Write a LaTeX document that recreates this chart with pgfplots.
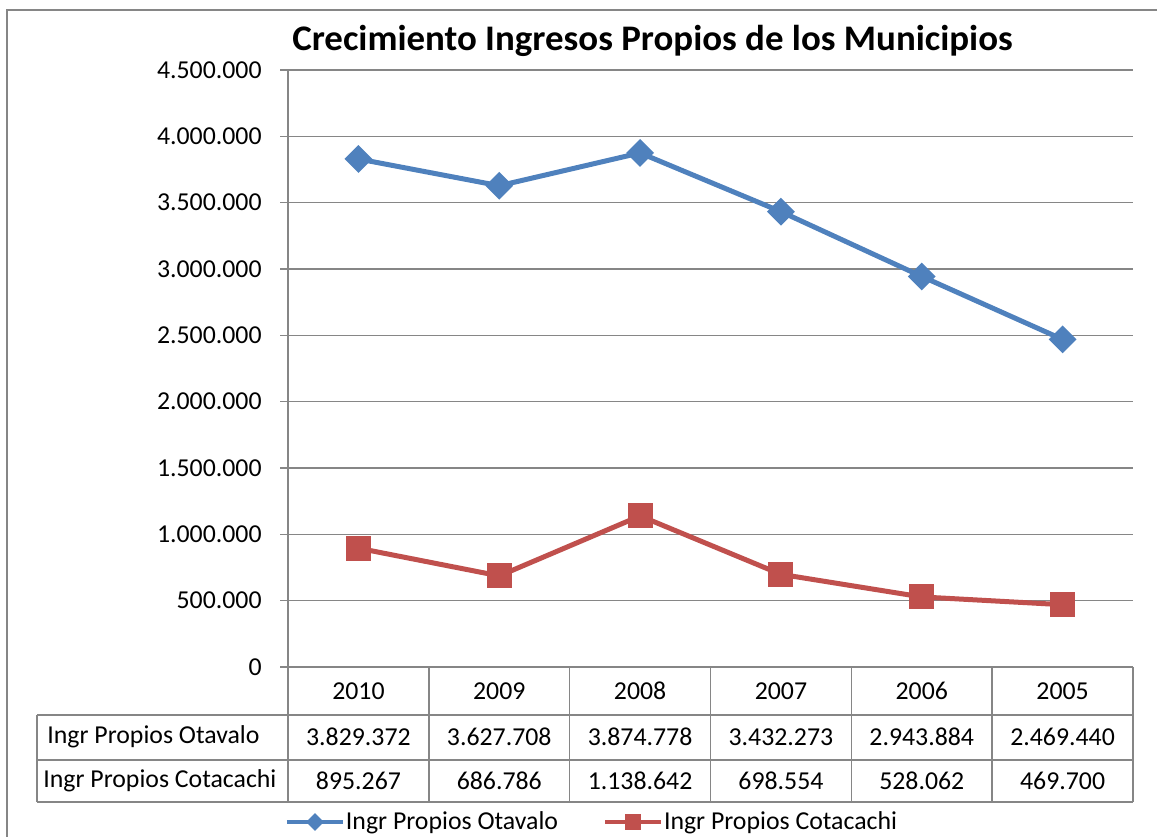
\documentclass[border=0pt]{standalone}
\usepackage{fontspec}
\setmainfont{Carlito}
\usepackage{graphicx}
\usepackage{pgfplots}
\pgfplotsset{compat=1.18}
\definecolor{otav}{HTML}{4F81BD}
\definecolor{cota}{HTML}{C0504D}
\definecolor{gridc}{HTML}{868686}
\newcommand{\tf}{\fontsize{12.9}{15}\selectfont}
\begin{document}
\begin{tikzpicture}
\useasboundingbox (0,0) rectangle (578.5pt,418pt);
\draw[gridc, line width=1pt] (3.5pt,-10pt) -- (3.5pt,413pt) -- (600pt,413pt);
\node[font=\fontsize{18}{21}\selectfont\bfseries, inner sep=0pt] at (326.25pt,397.5pt) {\scalebox{1.025}[1]{Crecimiento Ingresos Propios de los Municipios}};
\begin{axis}[
  at={(144pt,84.5pt)}, anchor=south west,
  width=422.5pt, height=298.5pt, scale only axis,
  xmin=-0.5, xmax=5.5, ymin=0, ymax=4500000,
  axis lines*=left,
  axis line style={gridc, line width=0.8pt, -},
  ytick={0,500000,1000000,1500000,2000000,2500000,3000000,3500000,4000000,4500000},
  scaled y ticks=false,
  /pgf/number format/fixed,
  /pgf/number format/precision=0,
  /pgf/number format/1000 sep={.},
  /pgf/number format/assume math mode=true,
  yticklabel style={font=\tf, anchor=east, inner sep=0pt, xshift=-9pt},
  ytick align=outside, major tick length=4pt,
  ytick style={gridc, line width=0.8pt},
  ymajorgrids, major grid style={gridc, line width=0.75pt},
  xtick={0,1,2,3,4,5},
  xticklabels={2010,2009,2008,2007,2006,2005},
  xtick style={draw=none},
  xticklabel style={font=\tf, anchor=center, inner sep=0pt, yshift=-12pt},
  clip=false,
  legend style={at={(0.3592,-0.2596)}, anchor=center, draw=none, fill=none,
    legend columns=2, font=\tf,
    /tikz/every even column/.append style={column sep=22pt},
    nodes={inner sep=0.5pt}},
  legend cell align=left,
  legend image code/.code={\draw[mark repeat=2, mark phase=2, #1, line width=2pt, mark size=3pt] plot coordinates {(0pt,0pt) (14pt,0pt) (28pt,0pt)};},
]
\addplot[color=otav, line width=2.5pt, mark=diamond*, mark size=5.2pt, mark options={xscale=1.333, solid}] coordinates {
  (0,3829372) (1,3627708) (2,3874778) (3,3432273) (4,2943884) (5,2469440)};
\addlegendentry{Ingr Propios Otavalo}
\addplot[color=cota, line width=2.5pt, mark=square*, mark size=5pt, mark options={solid}] coordinates {
  (0,895267) (1,686786) (2,1138642) (3,698554) (4,528062) (5,469700)};
\addlegendentry{Ingr Propios Cotacachi}
\end{axis}
% data table
\begin{scope}[gridc, line width=0.8pt]
\foreach \k in {0,...,6} { \draw ({144pt+\k*70.4167pt},84.5pt) -- ({144pt+\k*70.4167pt},17pt); }
\draw (18.5pt,60.5pt) -- (566.5pt,60.5pt);
\draw (18.5pt,38pt) -- (566.5pt,38pt);
\draw (18.5pt,17pt) -- (566.5pt,17pt);
\draw (18.5pt,60.5pt) -- (18.5pt,17pt);
\end{scope}
\begin{scope}[font=\tf]
\node[anchor=west, inner sep=0pt] at (23.5pt,49.5pt) {Ingr Propios Otavalo};
\node[anchor=west, inner sep=0pt] at (21.5pt,27.5pt) {Ingr Propios Cotacachi};
\foreach \v [count=\i from 0] in {3.829.372,3.627.708,3.874.778,3.432.273,2.943.884,2.469.440}
  { \node[inner sep=0pt] at ({179.21pt+\i*70.4167pt},49.5pt) {\v}; }
\foreach \v [count=\i from 0] in {895.267,686.786,1.138.642,698.554,528.062,469.700}
  { \node[inner sep=0pt] at ({179.21pt+\i*70.4167pt},27.5pt) {\v}; }
\end{scope}
\end{tikzpicture}
\end{document}
